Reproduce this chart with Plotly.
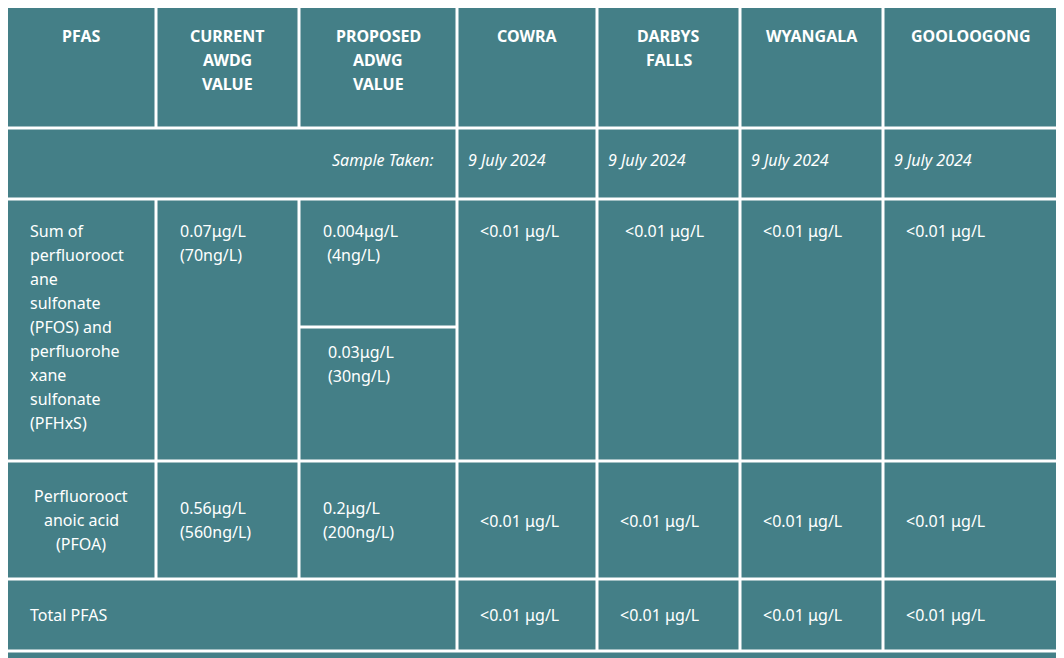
import plotly.graph_objects as go

headers = ["PFAS", "CURRENT\nAWDG\nVALUE", "PROPOSED\nADWG\nVALUE", "COWRA", "DARBYS\nFALLS", "WYANGALA", "GOOLOOGONG"]
sample_label = "Sample Taken:"
sample_dates = ["9 July 2024", "9 July 2024", "9 July 2024", "9 July 2024"]
pfos_name = "Sum of\nperfluorooct\nane\nsulfonate\n(PFOS) and\nperfluorohe\nxane\nsulfonate\n(PFHxS)"
pfos_current = "0.07μg/L\n(70ng/L)"
pfos_proposed_a = "0.004μg/L\n (4ng/L)"
pfos_proposed_b = "0.03μg/L\n(30ng/L)"
pfos_sites = ["<0.01 μg/L", "<0.01 μg/L", "<0.01 μg/L", "<0.01 μg/L"]
pfoa_name = "Perfluorooct\nanoic acid\n(PFOA)"
pfoa_current = "0.56μg/L\n(560ng/L)"
pfoa_proposed = "0.2μg/L\n(200ng/L)"
pfoa_sites = ["<0.01 μg/L", "<0.01 μg/L", "<0.01 μg/L", "<0.01 μg/L"]
total_label = "Total PFAS"
total_sites = ["<0.01 μg/L", "<0.01 μg/L", "<0.01 μg/L", "<0.01 μg/L"]

BG = "#447f87"
XB = [5, 156, 299, 457, 597, 740, 883, 1059]
YB = [5, 128, 199, 461, 579, 651]
LH = 24
anns = []

def text(x, y, s, align="left", bold=False, italic=False, valign="top"):
    lines = s.split("\n")
    if valign == "middle":
        y = y - (len(lines) - 1) * LH / 2
    for i, ln in enumerate(lines):
        t = ln.replace(" ", "&nbsp;") if ln.startswith(" ") else ln
        if bold: t = "<b>" + t + "</b>"
        if italic: t = "<i>" + t + "</i>"
        anns.append(dict(x=x, y=y + i * LH, text=t, xref="x", yref="y", showarrow=False,
                         xanchor=align, yanchor="middle",
                         font=dict(family="Noto Sans", size=16, color="white")))

for i, h in enumerate(headers):
    text((XB[i] + XB[i + 1]) / 2, 36, h, align="center", bold=True)
text(435, 160, sample_label, align="right", italic=True)
for i, d in enumerate(sample_dates):
    text(XB[3 + i] + 9, 160, d, italic=True)
text(28, 231, pfos_name)
text(178, 231, pfos_current)
text(321, 231, pfos_proposed_a)
text(326, 352, pfos_proposed_b)
for i, v in enumerate(pfos_sites):
    text(XB[3 + i] + (26 if i == 1 else 21), 231, v)
text(81, 520, pfoa_name, align="center", valign="middle")
text(178, 520, pfoa_current, valign="middle")
text(321, 520, pfoa_proposed, valign="middle")
for i, v in enumerate(pfoa_sites):
    text(XB[3 + i] + 21, 521, v)
text(28, 615, total_label)
for i, v in enumerate(total_sites):
    text(XB[3 + i] + 21, 615, v)

shapes = []
def line(x0, y0, x1, y1):
    shapes.append(dict(type="line", x0=x0, y0=y0, x1=x1, y1=y1, xref="x", yref="y",
                       line=dict(color="white", width=3)))
shapes.append(dict(type="rect", x0=5, y0=5, x1=1059, y1=651, xref="x", yref="y",
                   line=dict(color="white", width=3)))
for x in XB[1:3]:
    line(x, 5, x, 128); line(x, 199, x, 579)
for x in XB[3:7]:
    line(x, 5, x, 651)
for y in YB[1:5]:
    line(5, y, 1059, y)
line(299, 327, 457, 327)

fig = go.Figure()
fig.add_trace(go.Scatter(x=[500], y=[300], mode="markers", marker=dict(opacity=0), hoverinfo="skip", showlegend=False))
fig.update_layout(width=1056, height=650, margin=dict(l=0, r=0, t=0, b=0),
                  paper_bgcolor=BG, plot_bgcolor=BG, shapes=shapes, annotations=anns,
                  xaxis=dict(range=[8, 1064], visible=False, fixedrange=True),
                  yaxis=dict(range=[658, 8], visible=False, fixedrange=True))
fig.write_html("out.html", config={"displayModeBar": False})
